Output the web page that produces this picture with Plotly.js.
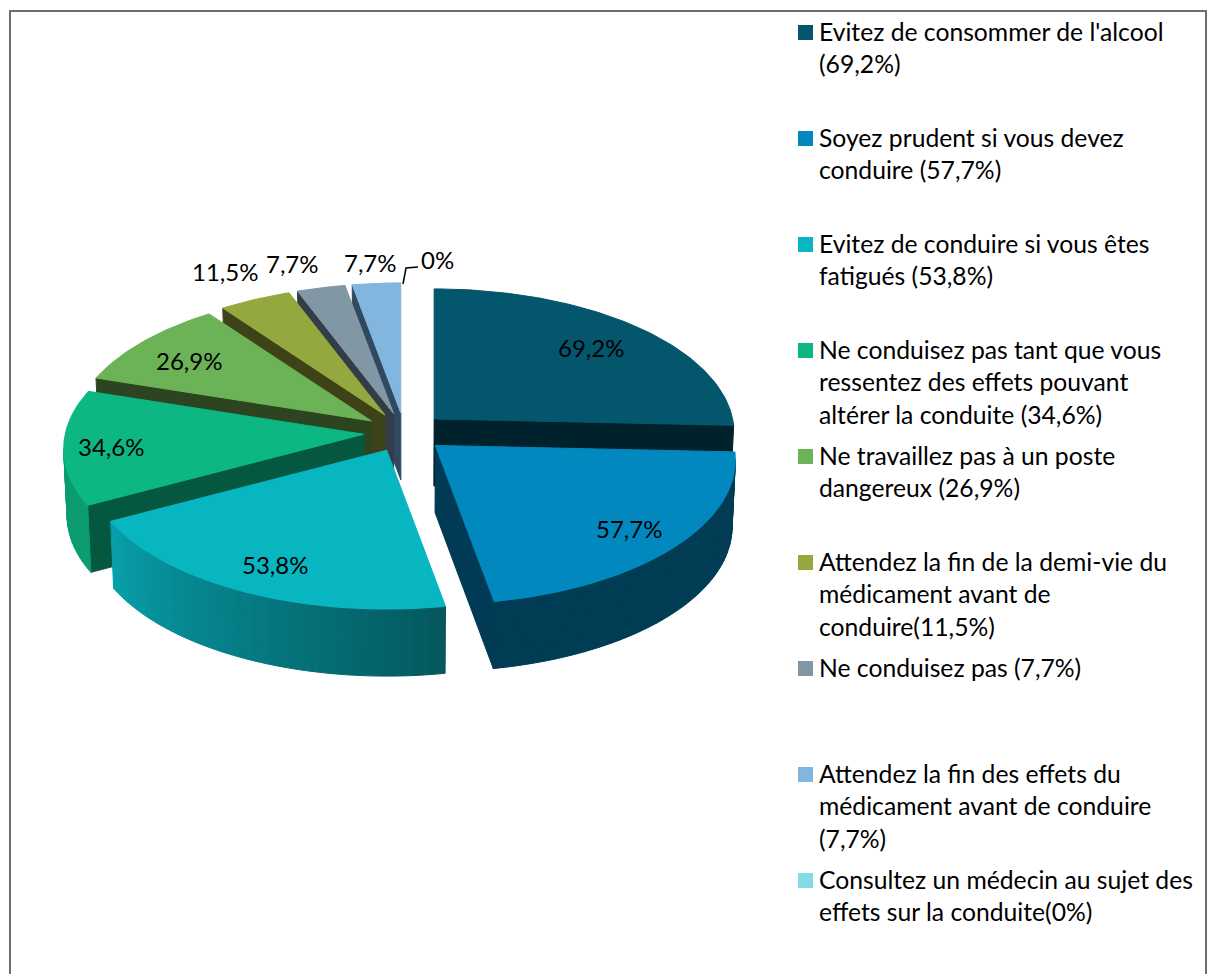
<!DOCTYPE html>
<html>
<head>
<meta charset="utf-8">
<script src="https://cdn.plot.ly/plotly-3.0.1.min.js"></script>
<style>html,body{margin:0;padding:0;background:#fff}#chart{width:1208px;height:974px}</style>
</head>
<body>
<div id="chart"></div>
<script>
// ---- data ----
const categories = [
  "Evitez de consommer de l'alcool",
  "Soyez prudent si vous devez conduire",
  "Evitez de conduire si vous êtes fatigués",
  "Ne conduisez pas tant que vous ressentez des effets pouvant altérer la conduite",
  "Ne travaillez pas à un poste dangereux",
  "Attendez la fin de la demi-vie du médicament avant de conduire",
  "Ne conduisez pas",
  "Attendez la fin des effets du médicament avant de conduire",
  "Consultez un médecin au sujet des effets sur la conduite"
];
const values = [69.2, 57.7, 53.8, 34.6, 26.9, 11.5, 7.7, 7.7, 0];
const valueLabels = ["69,2%", "57,7%", "53,8%", "34,6%", "26,9%", "11,5%", "7,7%", "7,7%", "0%"];
const legendLines = [
  ["Evitez de consommer de l'alcool", "(69,2%)"],
  ["Soyez prudent si vous devez", "conduire (57,7%)"],
  ["Evitez de conduire si vous êtes", "fatigués (53,8%)"],
  ["Ne conduisez pas tant que vous", "ressentez des effets pouvant", "altérer la conduite (34,6%)"],
  ["Ne travaillez pas à un poste", "dangereux (26,9%)"],
  ["Attendez la fin de la demi-vie du", "médicament avant de", "conduire(11,5%)"],
  ["Ne conduisez pas (7,7%)"],
  ["Attendez la fin des effets du", "médicament avant de conduire", "(7,7%)"],
  ["Consultez un médecin au sujet des", "effets sur la conduite(0%)"]
];
// ---- style ----
const topColors = ["#03566C", "#0088BF", "#08B6C2", "#0DB784", "#6CB257", "#93A83F", "#8297A5", "#82B6DF", "#83DCE5"];
const faceColors = ["#00222D", "#003A54", "#035C60", "#055840", "#2C4520", "#3D4218", "#333D47", "#2F4A60", "#83DCE5"];
const drawOrder = [7, 6, 5, 4, 3, 2, 0, 1];
const labelX = [591, 629, 275, 111, 189, 225, 292, 370, 437];
const labelY = [347, 528, 564, 446, 360, 271, 263, 262, 259];
const FONT = "Lato, 'Liberation Sans', sans-serif";
const FS_LABEL = 24, FS_LEGEND = 24.7;
const CX = 404.5, CY = 432.5, PULL = 41, FLAT = 0.48;
const RX = 298.5, RY = 143, PERSP = 0.10, DEPTH = 67, BOTTOM_SCALE = 0.99, STEP = 1.5;

const rad = d => d * Math.PI / 180;
const total = values.reduce((a, b) => a + b, 0);
const starts = []; let acc = 0;
values.forEach(v => { starts.push(acc); acc += v / total * 360; });

function hex(c) { return [1, 3, 5].map(i => parseInt(c.substr(i, 2), 16)); }
function shadeColor(c, f) { return "rgb(" + hex(c).map(v => Math.round(v * f)).join(",") + ")"; }
function wallShade(a) {
  if (a < 170) return 0.44;
  if (a < 242) return 0.48 + (a - 170) / 72 * 0.40;
  return 0.85;
}
function apexOf(i) {
  const mid = rad(starts[i] + values[i] / total * 180);
  return [CX + PULL * Math.sin(mid), CY - PULL * Math.cos(mid) * FLAT];
}
function rim(apex, a) {
  const X = Math.sin(rad(a)), Y = -Math.cos(rad(a)), s = 1 / (1 - PERSP * Y);
  return [apex[0] + RX * X * s, apex[1] + RY * Y * s];
}
function low(p) { return [CX + (p[0] - CX) * BOTTOM_SCALE, p[1] + DEPTH]; }

function poly(points, color, name, hover) {
  const closed = points.concat([points[0]]);
  return {
    type: "scatter", mode: "lines", fill: "toself",
    x: closed.map(p => p[0]), y: closed.map(p => p[1]),
    fillcolor: color, line: {color: color, width: 1}, name: name,
    hoverinfo: hover ? "name" : "skip", showlegend: false
  };
}

const traces = [];
drawOrder.forEach(i => {
  const a0 = starts[i], a1 = a0 + values[i] / total * 360, apex = apexOf(i);
  // only the faces and rim parts that look towards the viewer
  if (Math.sin(rad(a0)) < -1e-6) {
    const p = rim(apex, a0);
    traces.push(poly([apex, p, low(p), low(apex)], faceColors[i], categories[i], false));
  }
  if (Math.sin(rad(a1)) > 1e-6) {
    const p = rim(apex, a1);
    traces.push(poly([apex, p, low(p), low(apex)], faceColors[i], categories[i], false));
  }
  for (let a = a0; a < a1; a += STEP) {
    const b = Math.min(a + STEP, a1), p = rim(apex, a), q = rim(apex, b);
    if (q[0] < p[0]) traces.push(poly([p, q, low(q), low(p)], shadeColor(topColors[i], wallShade((a + b) / 2)), categories[i], false));
  }
  const arc = [apex];
  for (let a = a0; a < a1; a += 1) arc.push(rim(apex, a));
  arc.push(rim(apex, a1));
  traces.push(poly(arc, topColors[i], categories[i] + " : " + valueLabels[i], true));
});

// legend swatches
const LEG_X = 805.5, LEG_Y0 = 32.5, LEG_PITCH = 106, LINE_H = 32.5, TEXT_X = 817;
traces.push({
  type: "scatter", mode: "markers", hoverinfo: "skip", showlegend: false,
  x: categories.map(() => LEG_X),
  y: categories.map((c, i) => LEG_Y0 + i * LEG_PITCH),
  marker: {symbol: "square", size: 15, color: topColors, line: {width: 0}}
});

const annotations = valueLabels.map((t, i) => ({
  x: labelX[i], y: labelY[i], xref: "x", yref: "y", text: t, showarrow: false,
  xanchor: "center", yanchor: "middle", font: {family: FONT, size: FS_LABEL, color: "#000"}
}));
legendLines.forEach((lines, i) => lines.forEach((t, j) => annotations.push({
  x: TEXT_X, y: LEG_Y0 + i * LEG_PITCH + j * LINE_H - 1.5, xref: "x", yref: "y", text: t, showarrow: false,
  xanchor: "left", yanchor: "middle", font: {family: FONT, size: FS_LEGEND, color: "#000"}
})));

const frame = "#6E6E6E";
const shapes = [
  {type: "line", xref: "x", yref: "y", x0: 10, x1: 10, y0: 10, y1: 974, line: {color: frame, width: 2}},
  {type: "line", xref: "x", yref: "y", x0: 9, x1: 1207, y0: 11, y1: 11, line: {color: frame, width: 2}},
  {type: "line", xref: "x", yref: "y", x0: 1206, x1: 1206, y0: 10, y1: 974, line: {color: frame, width: 2}},
  {type: "path", xref: "x", yref: "y", path: "M403,284 L406,268 L418,267", line: {color: "#000", width: 1.5}}
];

Plotly.newPlot("chart", traces, {
  width: 1208, height: 974, margin: {l: 0, r: 0, t: 0, b: 0},
  paper_bgcolor: "#fff", plot_bgcolor: "#fff", showlegend: false, hovermode: "closest",
  xaxis: {range: [0, 1208], visible: false, fixedrange: true},
  yaxis: {range: [974, 0], visible: false, fixedrange: true},
  annotations: annotations, shapes: shapes
}, {displayModeBar: false});
</script>
</body>
</html>
